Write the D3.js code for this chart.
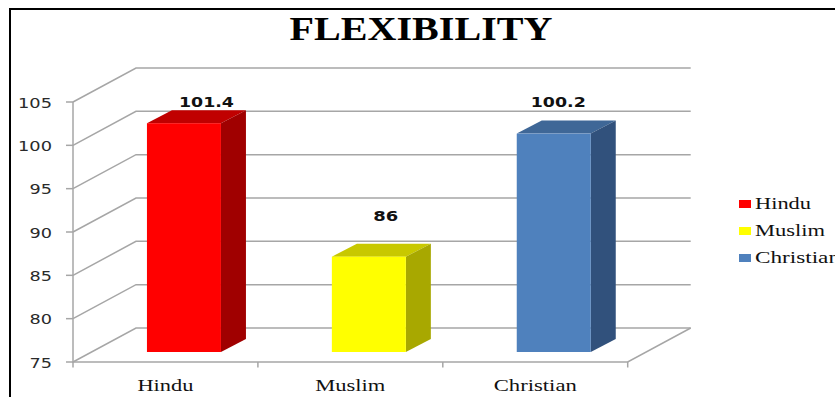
<!DOCTYPE html>
<html>
<head>
<meta charset="utf-8">
<script src="https://cdn.jsdelivr.net/npm/d3@7"></script>
<style>
  html, body { margin: 0; padding: 0; background: #fff; }
  svg { display: block; }
</style>
</head>
<body>
<svg id="chart" width="835" height="397"></svg>
<script>
const chartTitle = "FLEXIBILITY";
const categories = ["Hindu", "Muslim", "Christian"];
const values = [101.4, 86, 100.2];
const valueLabels = ["101.4", "86", "100.2"];
const yTicks = [75, 80, 85, 90, 95, 100, 105];
const frontColors = ["#ff0000", "#ffff00", "#4f81bd"];
const topColors = ["#c00000", "#c8c800", "#3f6797"];
const sideColors = ["#a00000", "#a8a800", "#31517c"];

const svg = d3.select("#chart");
const grey = "#a6a6a6";

// Plot box: front floor edge, plus the oblique offset to the back wall
const y = d3.scaleLinear().domain([75, 105]).range([362, 102]);
const x = d3.scaleBand().domain(categories).range([73, 627.7]);
const wall = { dx: 63, dy: -34 };
const barShift = { dx: 18.5, dy: -10 };
const barDepth = { dx: 25, dy: -13 };
const barWidth = 74;

// Page frame
svg.append("path")
  .attr("d", "M10,397V9H835")
  .attr("fill", "none").attr("stroke", "#000").attr("stroke-width", 2);

// Title
svg.append("text")
  .attr("x", 421).attr("y", 39.5)
  .attr("text-anchor", "middle")
  .attr("font-family", "Liberation Serif").attr("font-weight", "bold")
  .attr("font-size", 33)
  .attr("textLength", 263).attr("lengthAdjust", "spacingAndGlyphs")
  .text(chartTitle);

// Gridlines: side wall diagonal and back wall horizontal
const grid = svg.append("g").attr("fill", "none").attr("stroke", grey).attr("stroke-width", 1.5);
grid.selectAll("path").data(yTicks).join("path")
  .attr("d", d => {
    const py = y(d);
    return `M${x.range()[0]},${py}l${wall.dx},${wall.dy}H${x.range()[1] + wall.dx}`;
  });

// Floor front edge and right edge
grid.append("path")
  .attr("d", `M${x.range()[1] + wall.dx},${y(75) + wall.dy}L${x.range()[1]},${y(75)}H${x.range()[0]}V${y(105)}`);

// Y ticks and their labels
const yAxis = svg.append("g");
yAxis.selectAll("line").data(yTicks).join("line")
  .attr("x1", 66).attr("x2", 73)
  .attr("y1", d => y(d)).attr("y2", d => y(d))
  .attr("stroke", grey).attr("stroke-width", 1.5);
yAxis.selectAll("text").data(yTicks).join("text")
  .attr("x", 52).attr("y", d => y(d) + 5.5)
  .attr("text-anchor", "end")
  .attr("font-family", "DejaVu Sans").attr("font-size", 13.5)
  .attr("fill", "#2a2a2a")
  .attr("textLength", d => d >= 100 ? 34 : 22.5).attr("lengthAdjust", "spacingAndGlyphs")
  .text(d => d);

// X ticks at band boundaries, and category labels
const xBounds = categories.map(c => x(c)).concat(x.range()[1]);
svg.append("g").selectAll("line").data(xBounds).join("line")
  .attr("x1", d => d).attr("x2", d => d)
  .attr("y1", 362).attr("y2", 367.5)
  .attr("stroke", grey).attr("stroke-width", 1.5);
svg.append("g").selectAll("text").data(categories).join("text")
  .attr("x", d => x(d) + x.bandwidth() / 2)
  .attr("y", 391)
  .attr("text-anchor", "middle")
  .attr("font-family", "Liberation Serif").attr("font-size", 16.5)
  .attr("fill", "#111")
  .attr("textLength", (d, i) => [56, 70, 83][i]).attr("lengthAdjust", "spacingAndGlyphs")
  .text(d => d);

// 3D columns
const bars = svg.append("g").selectAll("g").data(categories).join("g");
const left = (c) => x(c) + x.bandwidth() / 2 + barShift.dx - barWidth / 2;
const floorY = y(75) + barShift.dy;
const topY = (i) => y(values[i]) + barShift.dy;

bars.append("path") // top face
  .attr("fill", (d, i) => topColors[i])
  .attr("d", (d, i) => `M${left(d)},${topY(i)}l${barDepth.dx},${barDepth.dy}h${barWidth}l${-barDepth.dx},${-barDepth.dy}Z`);
bars.append("path") // side face
  .attr("fill", (d, i) => sideColors[i])
  .attr("d", (d, i) => `M${left(d) + barWidth},${topY(i)}l${barDepth.dx},${barDepth.dy}V${floorY + barDepth.dy}l${-barDepth.dx},${-barDepth.dy}Z`);
bars.append("rect") // front face
  .attr("fill", (d, i) => frontColors[i])
  .attr("x", d => left(d)).attr("width", barWidth)
  .attr("y", (d, i) => topY(i)).attr("height", (d, i) => floorY - topY(i));

// Value labels, placed by hand above each column
bars.append("text")
  .attr("x", (d, i) => left(d) + barWidth / 2 + [22.5, 17, 4.5][i])
  .attr("y", (d, i) => [107, 221, 107][i])
  .attr("text-anchor", "middle")
  .attr("font-family", "DejaVu Sans").attr("font-weight", "bold").attr("font-size", 14.5)
  .attr("fill", "#111")
  .attr("textLength", (d, i) => [55, 25, 55][i]).attr("lengthAdjust", "spacingAndGlyphs")
  .text((d, i) => valueLabels[i]);

// Legend
const legend = svg.append("g").selectAll("g").data(categories).join("g")
  .attr("transform", (d, i) => `translate(739,${204 + i * 27})`);
legend.append("rect")
  .attr("x", 0).attr("y", -4).attr("width", 12).attr("height", 8)
  .attr("fill", (d, i) => frontColors[i]);
legend.append("text")
  .attr("x", 16).attr("y", 5)
  .attr("font-family", "Liberation Serif").attr("font-size", 16.5)
  .attr("fill", "#111")
  .attr("textLength", (d, i) => [56, 70, 85][i]).attr("lengthAdjust", "spacingAndGlyphs")
  .text(d => d);
</script>
</body>
</html>
